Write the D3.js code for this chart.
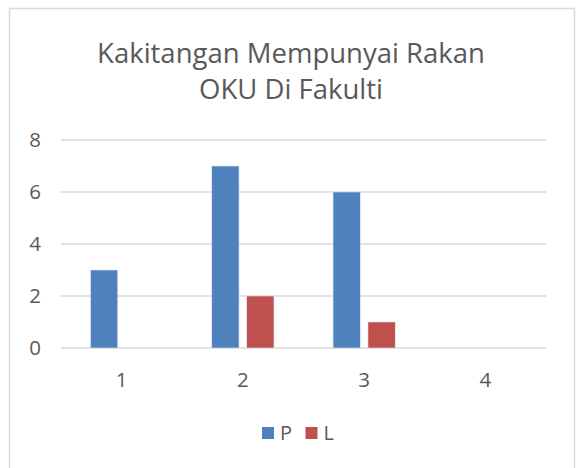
<!DOCTYPE html>
<html>
<head>
<meta charset="utf-8">
<script src="https://cdn.jsdelivr.net/npm/d3@7"></script>
<style>
  body { margin: 0; background: #fff; }
  text { font-family: "Open Sans", "Liberation Sans", sans-serif; fill: #595959; }
</style>
</head>
<body>
<div id="chart"></div>
<script>
// chart values
var categories = ["1", "2", "3", "4"];
var seriesNames = ["P", "L"];
var valuesP = [3, 7, 6, 0];
var valuesL = [0, 2, 1, 0];
var yTicks = [0, 2, 4, 6, 8];
var titleLines = ["Kakitangan Mempunyai Rakan", "OKU Di Fakulti"];
var colors = ["#4F81BD", "#C0504D"];

var width = 578, height = 468;
var plot = { left: 61, right: 546, top: 140, bottom: 348 };

var svg = d3.select("#chart").append("svg")
    .attr("width", width)
    .attr("height", height);

// chart frame
svg.append("rect")
    .attr("x", 9.5).attr("y", 8.5)
    .attr("width", 565).attr("height", 470)
    .attr("fill", "#fff")
    .attr("stroke", "#d9d9d9")
    .attr("stroke-width", 1.5);

// title
svg.append("text")
    .attr("text-anchor", "middle")
    .style("font-size", "27.5px")
    .selectAll("tspan")
    .data(titleLines)
    .enter().append("tspan")
    .attr("x", 291)
    .attr("y", function(d, i) { return 63 + i * 36; })
    .text(function(d) { return d; });

var x = d3.scaleBand().domain(categories).range([plot.left, plot.right]);
var y = d3.scaleLinear().domain([0, 8]).range([plot.bottom, plot.top]);

// gridlines
svg.append("g").selectAll("line")
    .data(yTicks)
    .enter().append("line")
    .attr("x1", plot.left).attr("x2", plot.right)
    .attr("y1", function(d) { return y(d); })
    .attr("y2", function(d) { return y(d); })
    .attr("stroke", "#d9d9d9")
    .attr("stroke-width", 1.3);

// y axis labels
var yAxis = svg.append("g")
    .attr("transform", "translate(41,0)")
    .call(d3.axisLeft(y).tickValues(yTicks).tickSize(0).tickPadding(0));
yAxis.select(".domain").remove();
yAxis.selectAll("text").style("font-size", "20.5px").attr("fill", "#595959");

// x axis labels
var xAxis = svg.append("g")
    .attr("transform", "translate(0," + plot.bottom + ")")
    .call(d3.axisBottom(x).tickSize(0).tickPadding(24));
xAxis.select(".domain").remove();
xAxis.selectAll("text").style("font-size", "20.5px").attr("fill", "#595959");

// bars
var x1 = d3.scaleBand().domain(seriesNames)
    .range([0, x.bandwidth()])
    .paddingInner(0.22).paddingOuter(0.845);

var rows = categories.map(function(c, i) {
    return { cat: c, vals: [valuesP[i], valuesL[i]] };
});

var groups = svg.append("g").selectAll("g")
    .data(rows)
    .enter().append("g")
    .attr("transform", function(d) { return "translate(" + x(d.cat) + ",0)"; });

groups.selectAll("rect")
    .data(function(d) { return d.vals.map(function(v, j) { return { name: seriesNames[j], v: v, j: j }; }); })
    .enter().append("rect")
    .filter(function(d) { return d.v > 0; })
    .attr("x", function(d) { return x1(d.name); })
    .attr("width", x1.bandwidth())
    .attr("y", function(d) { return y(d.v); })
    .attr("height", function(d) { return y(0) - y(d.v); })
    .attr("fill", function(d) { return colors[d.j]; })
    .attr("stroke", "#dfe8f3")
    .attr("stroke-width", 0.6);

// legend
var legend = svg.append("g").selectAll("g")
    .data(seriesNames)
    .enter().append("g")
    .attr("transform", function(d, i) { return "translate(" + (262 + i * 43.5) + ",427)"; });

legend.append("rect")
    .attr("width", 12).attr("height", 12)
    .attr("fill", function(d, i) { return colors[i]; });

legend.append("text")
    .attr("x", 18).attr("y", 13)
    .style("font-size", "20px")
    .text(function(d) { return d; });
</script>
</body>
</html>
